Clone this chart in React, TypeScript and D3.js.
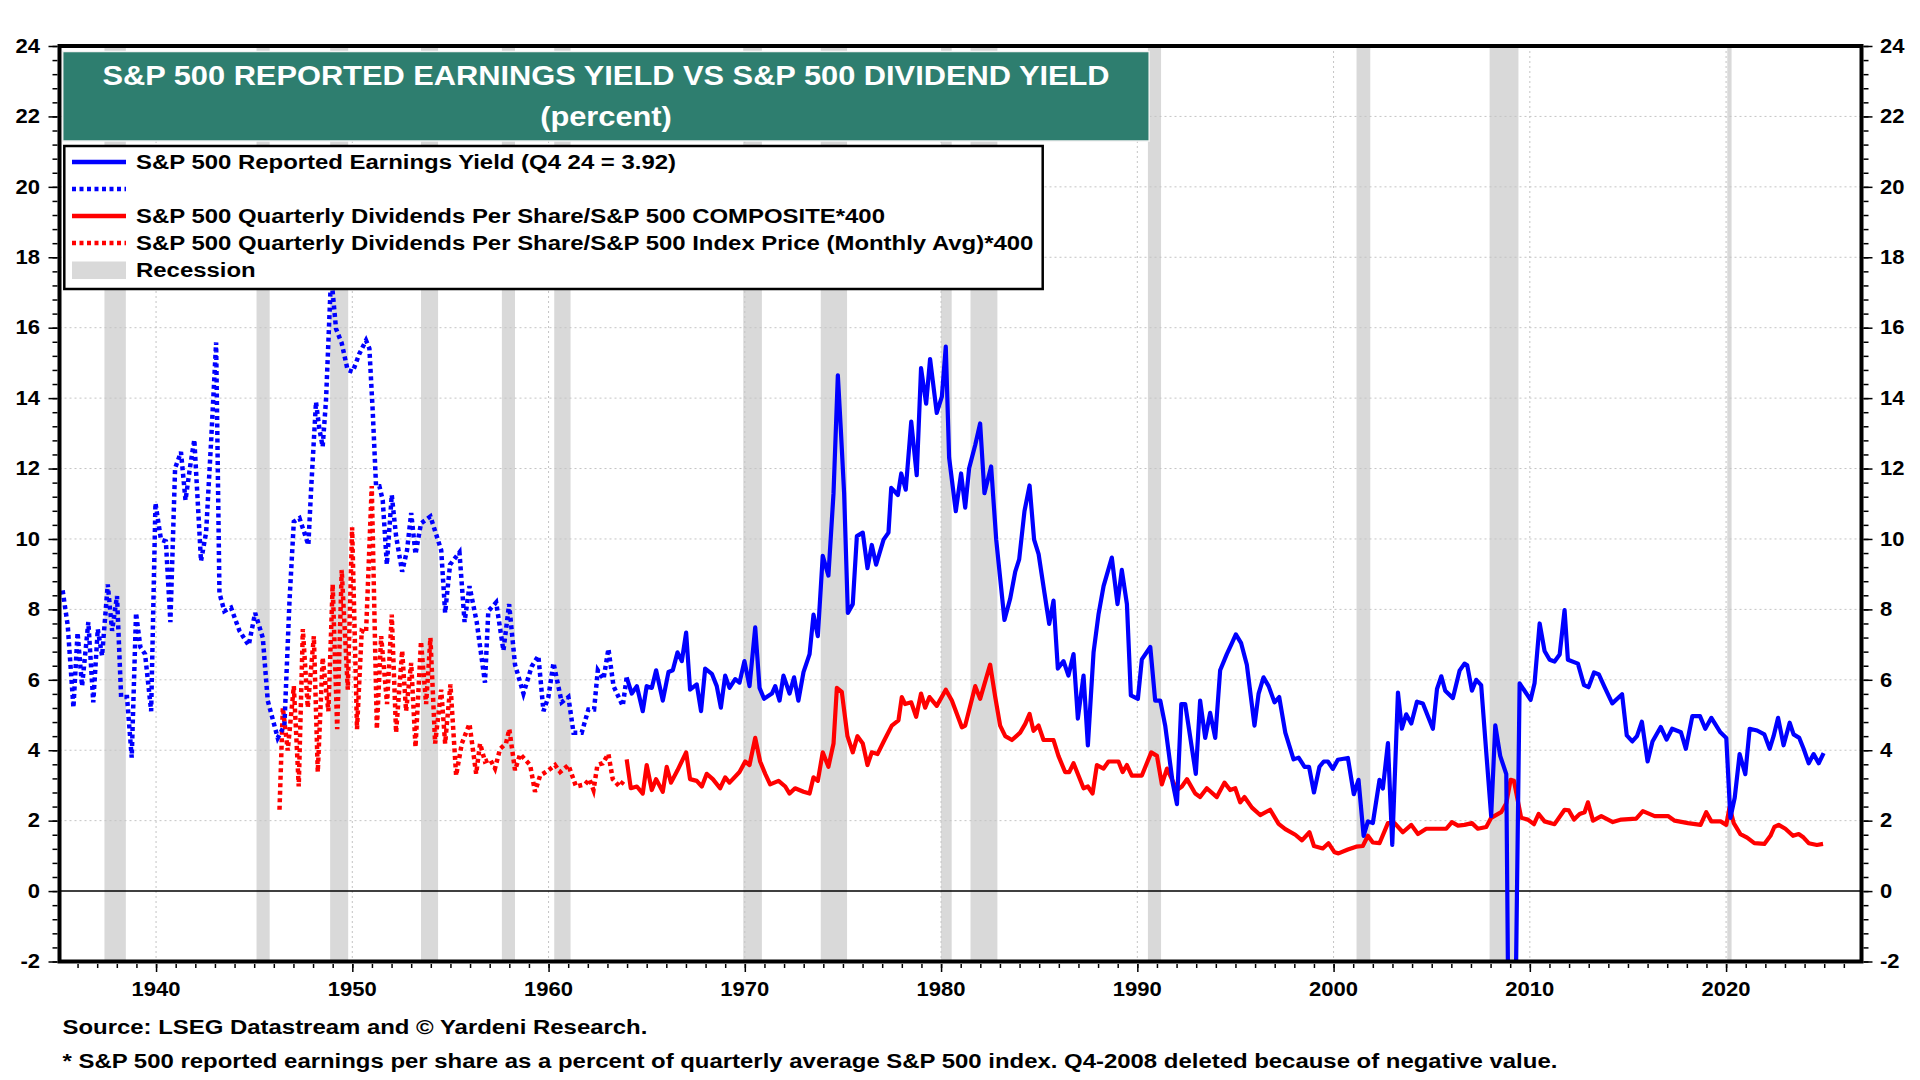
import { useEffect, useRef } from "react";
import * as d3 from "d3";

// [decimal year, percent]
const earningsYieldEarly: [number, number][] = [
  [1935.24, 8.54], [1935.5, 7.54], [1935.79, 5.21], [1936.0, 7.34], [1936.23, 5.82],
  [1936.55, 7.64], [1936.8, 5.36], [1937.03, 7.44], [1937.25, 6.68], [1937.54, 8.71],
  [1937.76, 7.39], [1938.01, 8.38], [1938.22, 5.51], [1938.52, 5.51], [1938.76, 3.79],
  [1938.98, 7.9], [1939.2, 6.93], [1939.44, 6.73], [1939.75, 5.11], [1939.97, 11.02],
  [1940.25, 9.98], [1940.5, 9.93], [1940.73, 7.64], [1940.97, 12.01], [1941.27, 12.47],
  [1941.5, 11.1], [1941.75, 12.11], [1941.95, 12.82], [1942.29, 9.37], [1942.55, 10.18],
  [1942.8, 12.72], [1943.06, 15.58], [1943.23, 8.46], [1943.48, 7.95], [1943.82, 8.05],
  [1944.25, 7.39], [1944.72, 6.98], [1945.05, 7.9], [1945.44, 7.19], [1945.69, 5.41],
  [1946.2, 4.35], [1946.54, 4.7], [1946.8, 8.25], [1947.02, 10.49], [1947.31, 10.59],
  [1947.76, 9.83], [1947.9, 11.4], [1948.15, 13.89], [1948.32, 13.13], [1948.49, 12.62],
  [1948.66, 13.94], [1948.92, 17.5], [1949.17, 15.97], [1949.46, 15.56], [1949.76, 14.8],
  [1950.02, 14.75], [1950.36, 15.26], [1950.7, 15.64], [1950.87, 15.41], [1951.04, 13.63],
  [1951.21, 11.5], [1951.38, 11.5], [1951.55, 11.1], [1951.76, 9.27], [1952.01, 11.25],
  [1952.23, 10.08], [1952.54, 9.07], [1952.79, 9.68], [1953.0, 10.74], [1953.22, 9.57],
  [1953.5, 10.44], [1953.98, 10.64], [1954.53, 9.68], [1954.73, 7.9], [1954.98, 9.27],
  [1955.46, 9.62], [1955.72, 7.64], [1955.97, 8.66], [1956.34, 7.64], [1956.76, 5.92],
  [1956.93, 7.95], [1957.33, 8.2], [1957.7, 6.83], [1957.99, 8.15], [1958.29, 6.43],
  [1958.72, 5.61], [1959.14, 6.38], [1959.48, 6.68], [1959.74, 5.11], [1959.99, 5.51],
  [1960.25, 6.48], [1960.67, 5.36], [1961.01, 5.51], [1961.27, 4.5], [1961.69, 4.5],
  [1962.03, 5.16], [1962.32, 5.16], [1962.51, 6.27], [1962.8, 6.02], [1963.05, 6.88],
  [1963.31, 5.82], [1963.78, 5.26], [1963.98, 6.07],
];

const earningsYield: [number, number][] = [
  [1963.98, 6.07], [1964.24, 5.61], [1964.5, 5.82], [1964.8, 5.11], [1965.0, 5.82],
  [1965.26, 5.77], [1965.48, 6.27], [1965.82, 5.41], [1966.11, 6.22], [1966.33, 6.27],
  [1966.57, 6.78], [1966.79, 6.53], [1967.01, 7.34], [1967.21, 5.72], [1967.55, 5.87],
  [1967.77, 5.11], [1967.98, 6.32], [1968.32, 6.17], [1968.57, 5.82], [1968.78, 5.21],
  [1969.0, 6.12], [1969.22, 5.77], [1969.51, 6.02], [1969.73, 5.92], [1969.98, 6.53],
  [1970.24, 5.82], [1970.53, 7.49], [1970.75, 5.77], [1970.98, 5.46], [1971.38, 5.61],
  [1971.55, 5.82], [1971.77, 5.41], [1971.97, 6.12], [1972.28, 5.61], [1972.51, 6.07],
  [1972.73, 5.41], [1972.99, 6.22], [1973.3, 6.73], [1973.5, 7.85], [1973.72, 7.24],
  [1973.97, 9.52], [1974.26, 8.96], [1974.52, 11.3], [1974.74, 14.65], [1974.89, 13.13],
  [1975.06, 11.3], [1975.25, 7.9], [1975.5, 8.15], [1975.71, 10.08], [1976.01, 10.18],
  [1976.25, 9.17], [1976.47, 9.83], [1976.69, 9.27], [1977.07, 9.98], [1977.32, 10.18],
  [1977.46, 11.45], [1977.8, 11.25], [1977.97, 11.86], [1978.2, 11.4], [1978.48, 13.33],
  [1978.76, 11.81], [1978.98, 14.85], [1979.24, 13.84], [1979.44, 15.11], [1979.78, 13.58],
  [1980.04, 14.04], [1980.24, 15.46], [1980.41, 12.31], [1980.75, 10.79], [1981.02, 11.86],
  [1981.23, 10.89], [1981.43, 12.01], [1981.74, 12.67], [1981.99, 13.28], [1982.21, 11.3],
  [1982.55, 12.06], [1982.81, 9.98], [1983.23, 7.7], [1983.52, 8.3], [1983.78, 9.07],
  [1983.98, 9.42], [1984.25, 10.79], [1984.51, 11.52], [1984.74, 9.98], [1984.97, 9.57],
  [1985.27, 8.46], [1985.51, 7.59], [1985.73, 8.25], [1985.95, 6.32], [1986.24, 6.53],
  [1986.49, 6.12], [1986.75, 6.73], [1986.97, 4.9], [1987.26, 6.12], [1987.48, 4.14],
  [1987.77, 6.78], [1988.02, 7.85], [1988.28, 8.66], [1988.7, 9.47], [1988.99, 8.15],
  [1989.21, 9.12], [1989.47, 8.15], [1989.67, 5.56], [1990.03, 5.46], [1990.23, 6.58],
  [1990.66, 6.93], [1990.91, 5.41], [1991.17, 5.41], [1991.42, 4.7], [1991.8, 3.08],
  [1992.02, 2.47], [1992.24, 5.31], [1992.44, 5.31], [1992.98, 3.33], [1993.2, 5.41],
  [1993.46, 4.35], [1993.71, 5.06], [1993.97, 4.35], [1994.22, 6.27], [1994.56, 6.73],
  [1994.82, 7.04], [1995.02, 7.29], [1995.29, 7.04], [1995.58, 6.43], [1995.97, 4.7],
  [1996.18, 5.61], [1996.43, 6.07], [1996.69, 5.82], [1996.99, 5.36], [1997.23, 5.51],
  [1997.54, 4.5], [1997.96, 3.74], [1998.22, 3.79], [1998.52, 3.53], [1998.75, 3.53],
  [1999.0, 2.8], [1999.28, 3.53], [1999.5, 3.68], [1999.71, 3.68], [1999.96, 3.47],
  [2000.22, 3.73], [2000.73, 3.78], [2001.03, 2.75], [2001.27, 3.16], [2001.53, 1.57],
  [2001.75, 1.98], [2002.0, 1.93], [2002.34, 3.16], [2002.51, 2.91], [2002.77, 4.2],
  [2002.99, 1.31], [2003.28, 5.64], [2003.48, 4.61], [2003.7, 5.02], [2003.96, 4.76],
  [2004.25, 5.38], [2004.55, 5.33], [2005.06, 4.61], [2005.27, 5.74], [2005.49, 6.1],
  [2005.69, 5.69], [2006.08, 5.48], [2006.42, 6.26], [2006.67, 6.46], [2006.81, 6.41],
  [2007.05, 5.69], [2007.27, 6.0], [2007.52, 5.85], [2007.78, 3.94], [2008.03, 2.13],
  [2008.24, 4.71], [2008.49, 3.84], [2008.8, 3.32], [2009.05, -13.0], [2009.48, 5.9],
  [2009.73, 5.69], [2010.04, 5.43], [2010.24, 5.9], [2010.5, 7.6], [2010.75, 6.82],
  [2011.01, 6.57], [2011.26, 6.52], [2011.52, 6.72], [2011.77, 7.98], [2011.94, 6.57],
  [2012.45, 6.46], [2012.76, 5.85], [2012.99, 5.79], [2013.27, 6.21], [2013.52, 6.15],
  [2013.81, 5.79], [2014.2, 5.33], [2014.7, 5.59], [2014.94, 4.42], [2015.22, 4.25],
  [2015.46, 4.4], [2015.71, 4.81], [2016.0, 3.68], [2016.25, 4.25], [2016.67, 4.66],
  [2016.97, 4.3], [2017.25, 4.61], [2017.7, 4.51], [2017.95, 4.04], [2018.28, 4.97],
  [2018.67, 4.97], [2018.94, 4.61], [2019.25, 4.92], [2019.71, 4.51], [2020.01, 4.35],
  [2020.22, 2.08], [2020.44, 2.65], [2020.69, 3.89], [2020.98, 3.32], [2021.2, 4.61],
  [2021.58, 4.56], [2021.95, 4.45], [2022.22, 4.04], [2022.42, 4.4], [2022.65, 4.92],
  [2022.93, 4.14], [2023.24, 4.78], [2023.44, 4.45], [2023.73, 4.35], [2023.95, 4.04],
  [2024.21, 3.63], [2024.46, 3.89], [2024.72, 3.63], [2024.97, 3.92],
];

const dividendYieldEarly: [number, number][] = [
  [1946.29, 2.31], [1946.46, 5.21], [1946.71, 3.99], [1947.02, 5.82], [1947.27, 2.97],
  [1947.48, 7.44], [1947.73, 5.21], [1948.04, 7.24], [1948.24, 3.38], [1948.49, 6.63],
  [1948.78, 5.11], [1949.0, 8.71], [1949.23, 4.6], [1949.46, 9.12], [1949.77, 5.72],
  [1949.99, 10.33], [1950.24, 4.6], [1950.48, 7.39], [1950.7, 7.34], [1950.99, 11.5],
  [1951.25, 4.6], [1951.47, 7.24], [1951.77, 5.31], [1952.01, 7.85], [1952.23, 4.5],
  [1952.54, 6.83], [1952.74, 5.11], [1953.0, 6.48], [1953.22, 4.09], [1953.5, 7.09],
  [1953.76, 5.31], [1953.98, 7.19], [1954.22, 4.19], [1954.53, 5.72], [1954.73, 4.19],
  [1955.0, 5.87], [1955.29, 3.28], [1955.58, 4.19], [1955.97, 4.75], [1956.31, 3.33],
  [1956.51, 4.19], [1956.76, 3.68], [1957.02, 3.74], [1957.27, 3.48], [1957.53, 4.04],
  [1957.83, 4.19], [1958.0, 4.6], [1958.29, 3.43], [1958.55, 3.89], [1959.06, 3.58],
  [1959.31, 2.82], [1959.57, 3.28], [1959.99, 3.43], [1960.33, 3.58], [1960.59, 3.38],
  [1961.01, 3.58], [1961.4, 2.97], [1961.86, 3.03], [1962.08, 3.18], [1962.29, 2.87],
  [1962.49, 3.58], [1962.76, 3.63], [1963.05, 3.89], [1963.27, 3.18], [1963.61, 2.97],
  [1963.9, 3.18],
];

const dividendYield: [number, number][] = [
  [1963.98, 3.74], [1964.19, 2.92], [1964.5, 2.97], [1964.8, 2.77], [1965.0, 3.58],
  [1965.26, 2.87], [1965.48, 3.18], [1965.82, 2.82], [1966.02, 3.53], [1966.24, 3.08],
  [1966.57, 3.43], [1967.01, 3.94], [1967.21, 3.18], [1967.55, 3.13], [1967.81, 2.97],
  [1968.06, 3.33], [1968.37, 3.18], [1968.74, 2.92], [1969.0, 3.23], [1969.22, 3.08],
  [1969.73, 3.38], [1970.02, 3.68], [1970.24, 3.58], [1970.53, 4.35], [1970.78, 3.68],
  [1971.04, 3.33], [1971.29, 3.03], [1971.72, 3.13], [1972.06, 2.97], [1972.28, 2.77],
  [1972.56, 2.92], [1972.99, 2.82], [1973.3, 2.77], [1973.5, 3.23], [1973.72, 3.13],
  [1973.97, 3.94], [1974.26, 3.53], [1974.52, 4.19], [1974.69, 5.77], [1974.94, 5.66],
  [1975.23, 4.4], [1975.5, 3.94], [1975.74, 4.4], [1976.01, 4.19], [1976.25, 3.58],
  [1976.47, 3.94], [1976.76, 3.89], [1977.07, 4.24], [1977.49, 4.7], [1977.83, 4.85],
  [1978.0, 5.51], [1978.17, 5.31], [1978.48, 5.36], [1978.73, 4.95], [1978.98, 5.61],
  [1979.19, 5.21], [1979.41, 5.51], [1979.78, 5.26], [1980.24, 5.72], [1980.55, 5.41],
  [1981.06, 4.65], [1981.23, 4.7], [1981.74, 5.82], [1981.99, 5.46], [1982.5, 6.43],
  [1982.76, 5.51], [1983.01, 4.7], [1983.27, 4.4], [1983.61, 4.29], [1984.03, 4.5],
  [1984.29, 4.75], [1984.51, 5.03], [1984.71, 4.55], [1984.97, 4.7], [1985.22, 4.29],
  [1985.73, 4.29], [1985.98, 3.84], [1986.32, 3.38], [1986.53, 3.38], [1986.75, 3.63],
  [1987.0, 3.28], [1987.26, 2.92], [1987.48, 2.97], [1987.72, 2.77], [1987.94, 3.58],
  [1988.28, 3.48], [1988.53, 3.68], [1989.04, 3.68], [1989.25, 3.38], [1989.47, 3.58],
  [1989.72, 3.28], [1990.23, 3.28], [1990.71, 3.94], [1991.0, 3.84], [1991.25, 3.03],
  [1991.51, 3.48], [1992.02, 2.87], [1992.27, 2.97], [1992.53, 3.18], [1992.95, 2.77],
  [1993.2, 2.67], [1993.54, 2.92], [1994.05, 2.67], [1994.44, 3.08], [1994.73, 2.87],
  [1994.99, 2.92], [1995.24, 2.52], [1995.46, 2.67], [1995.84, 2.37], [1996.26, 2.16],
  [1996.77, 2.31], [1997.2, 1.91], [1997.54, 1.76], [1998.05, 1.6], [1998.39, 1.44],
  [1998.77, 1.67], [1999.0, 1.28], [1999.45, 1.21], [1999.74, 1.36], [2000.05, 1.1],
  [2000.25, 1.07], [2000.73, 1.18], [2001.15, 1.26], [2001.49, 1.28], [2001.75, 1.57],
  [2002.0, 1.38], [2002.34, 1.36], [2002.77, 1.93], [2003.11, 1.93], [2003.53, 1.67],
  [2003.96, 1.88], [2004.3, 1.62], [2004.72, 1.77], [2005.32, 1.77], [2005.74, 1.77],
  [2006.03, 1.96], [2006.34, 1.86], [2006.67, 1.88], [2007.05, 1.93], [2007.35, 1.77],
  [2007.78, 1.82], [2008.03, 2.08], [2008.54, 2.24], [2008.8, 2.49], [2009.02, 3.16],
  [2009.19, 3.13], [2009.56, 2.08], [2009.9, 2.03], [2010.21, 1.9], [2010.45, 2.19],
  [2010.75, 1.98], [2011.26, 1.9], [2011.77, 2.31], [2011.99, 2.29], [2012.25, 2.03],
  [2012.54, 2.19], [2012.79, 2.24], [2012.96, 2.52], [2013.22, 2.0], [2013.64, 2.13],
  [2014.23, 1.96], [2014.66, 2.03], [2015.42, 2.06], [2015.76, 2.27], [2016.36, 2.13],
  [2017.04, 2.13], [2017.38, 2.0], [2018.06, 1.93], [2018.7, 1.88], [2018.99, 2.24],
  [2019.25, 1.98], [2019.72, 1.98], [2020.01, 1.88], [2020.18, 2.39], [2020.39, 1.93],
  [2020.73, 1.62], [2021.07, 1.52], [2021.44, 1.36], [2021.95, 1.34], [2022.26, 1.57],
  [2022.46, 1.82], [2022.68, 1.88], [2023.02, 1.77], [2023.41, 1.57], [2023.7, 1.62],
  [2023.95, 1.52], [2024.21, 1.36], [2024.63, 1.31], [2024.94, 1.34],
];

// NBER recessions, [start, end] in decimal years
const recessions: [number, number][] = [
  [1937.37, 1938.46], [1945.12, 1945.79], [1948.87, 1949.79], [1953.5, 1954.37],
  [1957.62, 1958.29], [1960.29, 1961.12], [1969.92, 1970.87], [1973.87, 1975.21],
  [1980.0, 1980.54], [1981.5, 1982.87], [1990.54, 1991.21], [2001.17, 2001.87],
  [2007.95, 2009.42], [2020.06, 2020.28],
];

const yTickLabels = [-2, 0, 2, 4, 6, 8, 10, 12, 14, 16, 18, 20, 22, 24];
const decadeLabels = [1940, 1950, 1960, 1970, 1980, 1990, 2000, 2010, 2020];
const titleLines = ["S&P 500 REPORTED EARNINGS YIELD VS S&P 500 DIVIDEND YIELD", "(percent)"];
const legendLabels = [
  "S&P 500 Reported Earnings Yield (Q4 24 = 3.92)",
  "",
  "S&P 500 Quarterly Dividends Per Share/S&P 500 COMPOSITE*400",
  "S&P 500 Quarterly Dividends Per Share/S&P 500 Index Price (Monthly Avg)*400",
  "Recession",
];
const footnotes = [
  "Source: LSEG Datastream and \u00a9 Yardeni Research.",
  "* S&P 500 reported earnings per share as a percent of quarterly average S&P 500 index. Q4-2008 deleted because of negative value.",
];

const W = 1920;
const H = 1080;
const plot = { left: 59.5, right: 1861.5, top: 46, bottom: 961.5 };
const FONT = "'Liberation Sans', Arial, Helvetica, sans-serif";
const BLUE = "#0000ff";
const RED = "#ff0000";
const DOTS = "4,3.5";

const YieldChart = () => {
  const svgRef = useRef<SVGSVGElement>(null);

  useEffect(() => {
    if (!svgRef.current) return;
    const svg = d3.select(svgRef.current);
    svg.selectAll("*").remove();

    const x = d3.scaleLinear().domain([1935.08, 2026.9]).range([plot.left, plot.right]);
    const y = d3.scaleLinear().domain([-2, 24]).range([plot.bottom, plot.top]);

    // bold text, stretched a little wider like the original
    const label = (g: any, px: number, py: number, str: string, size: number, sx: number, anchor = "start", fill = "#000") =>
      g
        .append("text")
        .attr("transform", `translate(${px},${py}) scale(${sx},1)`)
        .attr("text-anchor", anchor)
        .attr("font-family", FONT)
        .attr("font-weight", "bold")
        .attr("font-size", size)
        .attr("fill", fill)
        .text(str);

    svg.append("rect").attr("width", W).attr("height", H).attr("fill", "#fff");

    svg
      .append("defs")
      .append("clipPath")
      .attr("id", "plot-clip")
      .append("rect")
      .attr("x", plot.left)
      .attr("y", plot.top)
      .attr("width", plot.right - plot.left)
      .attr("height", plot.bottom - plot.top);

    // recession shading
    svg
      .append("g")
      .selectAll("rect")
      .data(recessions)
      .join("rect")
      .attr("x", (d) => x(d[0]))
      .attr("width", (d) => x(d[1]) - x(d[0]))
      .attr("y", plot.top)
      .attr("height", plot.bottom - plot.top)
      .attr("fill", "#d9d9d9");

    // dotted grid
    const grid = svg
      .append("g")
      .attr("stroke", "#c4c4c4")
      .attr("stroke-width", 1)
      .attr("stroke-dasharray", "2,3");
    grid
      .selectAll(".gx")
      .data(decadeLabels)
      .join("line")
      .attr("x1", (d) => x(d))
      .attr("x2", (d) => x(d))
      .attr("y1", plot.top)
      .attr("y2", plot.bottom);
    grid
      .selectAll(".gy")
      .data(yTickLabels.filter((v) => v > -2 && v < 24 && v !== 0))
      .join("line")
      .attr("x1", plot.left)
      .attr("x2", plot.right)
      .attr("y1", (d) => y(d))
      .attr("y2", (d) => y(d));

    // zero line
    svg
      .append("line")
      .attr("x1", plot.left)
      .attr("x2", plot.right)
      .attr("y1", y(0))
      .attr("y2", y(0))
      .attr("stroke", "#000")
      .attr("stroke-width", 1.5);

    // series
    const line = d3
      .line<[number, number]>()
      .x((d) => x(d[0]))
      .y((d) => y(d[1]));
    const series = svg.append("g").attr("clip-path", "url(#plot-clip)").attr("fill", "none");
    series
      .append("path")
      .datum(dividendYieldEarly)
      .attr("d", line)
      .attr("stroke", RED)
      .attr("stroke-width", 4.5)
      .attr("stroke-dasharray", DOTS);
    series
      .append("path")
      .datum(earningsYieldEarly)
      .attr("d", line)
      .attr("stroke", BLUE)
      .attr("stroke-width", 4.5)
      .attr("stroke-dasharray", DOTS);
    series
      .append("path")
      .datum(dividendYield)
      .attr("d", line)
      .attr("stroke", RED)
      .attr("stroke-width", 4.2)
      .attr("stroke-linejoin", "round");
    series
      .append("path")
      .datum(earningsYield)
      .attr("d", line)
      .attr("stroke", BLUE)
      .attr("stroke-width", 4.2)
      .attr("stroke-linejoin", "round");

    // axes ticks
    const minorY = d3.range(-2, 24.001, 0.4);
    const axisStyle = (g: any) => {
      g.select(".domain").remove();
      g.selectAll("line").attr("stroke", "#000").attr("stroke-width", 1.5);
    };
    svg
      .append("g")
      .attr("transform", `translate(${plot.left - 2},0)`)
      .call(d3.axisLeft(y).tickValues(minorY).tickSize(5).tickFormat(() => ""))
      .call(axisStyle);
    svg
      .append("g")
      .attr("transform", `translate(${plot.left - 2},0)`)
      .call(d3.axisLeft(y).tickValues(yTickLabels).tickSize(9).tickFormat(() => ""))
      .call(axisStyle);
    svg
      .append("g")
      .attr("transform", `translate(${plot.right + 2},0)`)
      .call(d3.axisRight(y).tickValues(minorY).tickSize(5).tickFormat(() => ""))
      .call(axisStyle);
    svg
      .append("g")
      .attr("transform", `translate(${plot.right + 2},0)`)
      .call(d3.axisRight(y).tickValues(yTickLabels).tickSize(9).tickFormat(() => ""))
      .call(axisStyle);
    svg
      .append("g")
      .attr("transform", `translate(0,${plot.bottom + 2.5})`)
      .call(d3.axisBottom(x).tickValues(d3.range(1936, 2027, 1)).tickSize(4).tickFormat(() => ""))
      .call(axisStyle);
    svg
      .append("g")
      .attr("transform", `translate(0,${plot.bottom + 2.5})`)
      .call(d3.axisBottom(x).tickValues(decadeLabels).tickSize(8).tickFormat(() => ""))
      .call(axisStyle);

    // frame
    svg
      .append("rect")
      .attr("x", plot.left)
      .attr("y", plot.top)
      .attr("width", plot.right - plot.left)
      .attr("height", plot.bottom - plot.top)
      .attr("fill", "none")
      .attr("stroke", "#000")
      .attr("stroke-width", 4);

    // tick labels
    const labels = svg.append("g");
    yTickLabels.forEach((v) => {
      label(labels, 40, y(v) + 6.8, String(v), 19.5, 1.13, "end");
      label(labels, 1880, y(v) + 6.8, String(v), 19.5, 1.13, "start");
    });
    decadeLabels.forEach((yr) => label(labels, x(yr), 996, String(yr), 19.5, 1.13, "middle"));

    // footnotes
    label(svg, 62.5, 1034, footnotes[0], 21, 1.14);
    label(svg, 62.5, 1068, footnotes[1], 21, 1.14);

    // title banner
    svg
      .append("rect")
      .attr("x", 62.7)
      .attr("y", 51.5)
      .attr("width", 1086.5)
      .attr("height", 89.5)
      .attr("fill", "#2e7e6f")
      .attr("stroke", "#f2f2f2")
      .attr("stroke-width", 1.5);
    label(svg, 606, 85, titleLines[0], 28, 1.1, "middle", "#fff");
    label(svg, 606, 126, titleLines[1], 28, 1.1, "middle", "#fff");

    // legend
    const legend = svg.append("g");
    legend
      .append("rect")
      .attr("x", 64.3)
      .attr("y", 146)
      .attr("width", 978.4)
      .attr("height", 143)
      .attr("fill", "#fff")
      .attr("stroke", "#000")
      .attr("stroke-width", 2.5);
    const rowY = [162, 189, 216, 243, 270];
    const swatches = [
      { color: BLUE, dash: null },
      { color: BLUE, dash: DOTS },
      { color: RED, dash: null },
      { color: RED, dash: DOTS },
      { color: "#d9d9d9", dash: "box" },
    ];
    swatches.forEach((s, i) => {
      if (s.dash === "box") {
        legend
          .append("rect")
          .attr("x", 72)
          .attr("y", rowY[i] - 8.5)
          .attr("width", 54)
          .attr("height", 17.5)
          .attr("fill", s.color);
      } else {
        legend
          .append("line")
          .attr("x1", 72)
          .attr("x2", 126)
          .attr("y1", rowY[i])
          .attr("y2", rowY[i])
          .attr("stroke", s.color)
          .attr("stroke-width", 4.5)
          .attr("stroke-dasharray", s.dash);
      }
      if (legendLabels[i]) label(legend, 136, rowY[i] + 7.4, legendLabels[i], 21, 1.14);
    });
  }, []);

  return (
    <svg
      ref={svgRef}
      width={W}
      height={H}
      style={{ position: "absolute", left: 0, top: 0, display: "block" }}
    ></svg>
  );
};

export default YieldChart;
